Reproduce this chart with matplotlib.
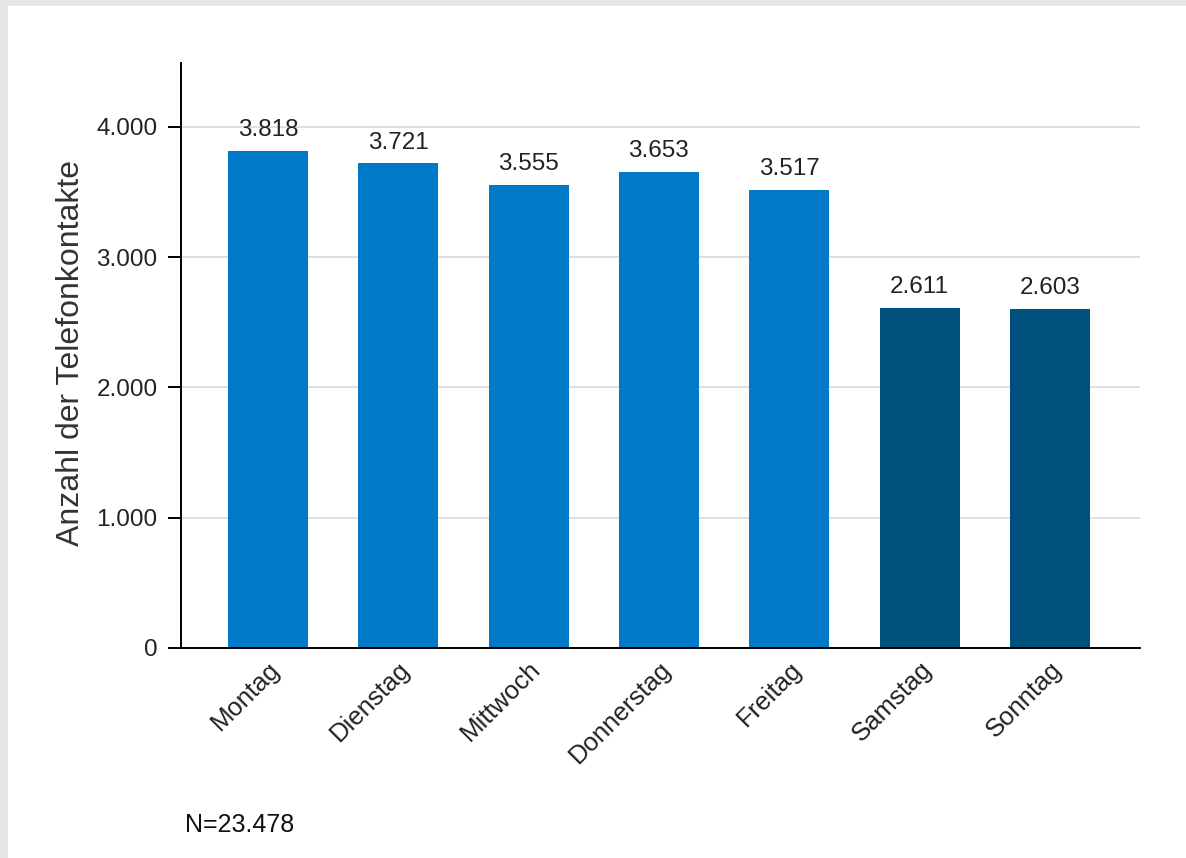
import matplotlib
matplotlib.use("Agg")
import matplotlib.pyplot as plt
from matplotlib.patches import Rectangle

plt.rcParams['font.family'] = ['Liberation Sans', 'DejaVu Sans']

days = ["Montag", "Dienstag", "Mittwoch", "Donnerstag", "Freitag", "Samstag", "Sonntag"]
calls = [3818, 3721, 3555, 3653, 3517, 2611, 2603]
value_labels = ["3.818", "3.721", "3.555", "3.653", "3.517", "2.611", "2.603"]
yticks = [0, 1000, 2000, 3000, 4000]
ytick_labels = ["0", "1.000", "2.000", "3.000", "4.000"]
note = "N=23.478"
ylabel = "Anzahl der Telefonkontakte"

weekday_color = "#0079c6"
weekend_color = "#00507e"
colors = [weekday_color] * 5 + [weekend_color] * 2

W, H = 1186, 858
fig = plt.figure(figsize=(W / 100, H / 100), dpi=100)
fig.patch.set_facecolor("#e5e6e5")
fig.patches.append(Rectangle((8 / W, 0), 1 - 8 / W, 1 - 6 / H, transform=fig.transFigure,
                             facecolor="white", edgecolor="none", zorder=-5))

ax = fig.add_axes([181 / W, 1 - 648 / H, (1140 - 181) / W, (648 - 63) / H])
ax.set_facecolor("none")

x = list(range(len(days)))
ax.bar(x, calls, width=0.614, color=colors, zorder=2)

for xi, v, lab in zip(x, calls, value_labels):
    ax.annotate(lab, (xi, v), xytext=(0, 10.5), textcoords="offset points",
                ha="center", va="baseline", fontsize=17.5, color="#222222", zorder=3)

ax.set_xlim(-0.668, 6.692)
ax.set_ylim(0, 4490)
ax.set_yticks(yticks)
ax.set_yticklabels(ytick_labels, fontsize=17.5, color="#222222")
ax.set_xticks(x)
ax.set_xticklabels(days, rotation=45, ha="right", rotation_mode="anchor",
                   fontsize=18.5, color="#222222")
ax.tick_params(axis="y", length=9.4, width=1.4, pad=7.5, color="black")
ax.tick_params(axis="x", length=0, pad=6.5)
for lbl in ax.get_xticklabels():
    lbl.set_x(lbl.get_position()[0])

ax.grid(axis="y", color="#dcdcdc", linewidth=1.3, zorder=0)
ax.set_axisbelow(True)

for s in ["top", "right"]:
    ax.spines[s].set_visible(False)
for s in ["left", "bottom"]:
    ax.spines[s].set_linewidth(1.4)
    ax.spines[s].set_color("black")

ax.set_ylabel(ylabel, fontsize=23, color="#333333")
ax.yaxis.set_label_coords(-0.099, 0.505)

fig.text(185 / W, 1 - 832 / H, note, fontsize=18, color="#111111", ha="left", va="baseline")

fig.savefig("out.png", dpi=100, facecolor=fig.get_facecolor())
